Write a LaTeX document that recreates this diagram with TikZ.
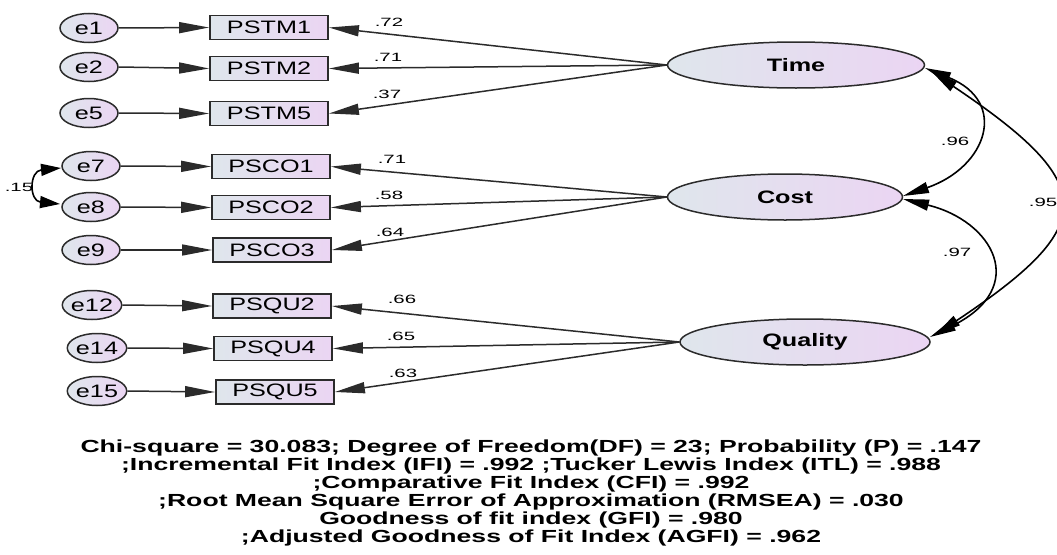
\documentclass[tikz,border=0pt]{standalone}
\usepackage{fontspec}
\setmainfont{Liberation Sans}[FakeStretch=1.4]
\newfontfamily\fitfont{Liberation Sans}[FakeStretch=1.52]
\newfontfamily\coeffont{Liberation Sans}[FakeStretch=1.7]
\usetikzlibrary{arrows.meta,shapes.geometric}
\definecolor{fillL}{HTML}{DFE6EC}
\definecolor{fillR}{HTML}{EBD5F3}
\definecolor{edgegray}{HTML}{2B2B2B}

\begin{document}
\begin{tikzpicture}[x=1pt,y=-1pt,
  errvar/.style={ellipse, draw=edgegray, line width=1.5pt, left color=fillL, right color=fillR,
    minimum width=58pt, minimum height=29pt, inner sep=0pt, font=\fontsize{18}{20}\selectfont},
  obsvar/.style={rectangle, draw=edgegray, line width=1.8pt, left color=fillL, right color=fillR,
    minimum width=118pt, minimum height=24pt, inner sep=0pt, font=\fontsize{18}{20}\selectfont},
  latvar/.style={ellipse, draw=edgegray, line width=1.5pt, left color=fillL, right color=fillR,
    minimum height=46pt, inner sep=0pt, font=\bfseries\fontsize{18}{20}\selectfont},
  path/.style={line width=1.5pt, draw=edgegray, -{Triangle[length=30pt,width=11pt]}},
  cov/.style={line width=1.6pt, draw=black, {Triangle[length=26pt,width=11pt]}-{Triangle[length=26pt,width=11pt]}},
  coef/.style={font=\coeffont\fontsize{12}{13}\selectfont, inner sep=0pt},
]
\useasboundingbox (0,0) rectangle (1057,554);

% error terms
\node[errvar] (e1)  at (89,28)  {e1};
\node[errvar] (e2)  at (89,67)  {e2};
\node[errvar] (e5)  at (89,113) {e5};
\node[errvar] (e7)  at (91,166) {e7};
\node[errvar] (e8)  at (91,207) {e8};
\node[errvar] (e9)  at (91,250) {e9};
\node[errvar] (e12) at (92,305) {e12};
\node[errvar] (e14) at (97,348) {e14};
\node[errvar] (e15) at (97,391) {e15};

% observed indicators
\node[obsvar] (PSTM1) at (269,27.5)  {PSTM1};
\node[obsvar] (PSTM2) at (269,68.5)  {PSTM2};
\node[obsvar] (PSTM5) at (269,113.5) {PSTM5};
\node[obsvar] (PSCO1) at (271,166.5) {PSCO1};
\node[obsvar] (PSCO2) at (271,207.5) {PSCO2};
\node[obsvar] (PSCO3) at (272,250)   {PSCO3};
\node[obsvar] (PSQU2) at (272,306)   {PSQU2};
\node[obsvar] (PSQU4) at (273,348.5) {PSQU4};
\node[obsvar] (PSQU5) at (275,392)   {PSQU5};

% latent factors
\node[latvar, minimum width=257pt] (Time)    at (796,65)  {Time};
\node[latvar, minimum width=235pt] (Cost)    at (785,197) {Cost};
\node[latvar, minimum width=250pt] (Quality) at (805,342) {Quality};

% error paths
\foreach \e/\o in {e1/PSTM1,e2/PSTM2,e5/PSTM5,e7/PSCO1,e8/PSCO2,e9/PSCO3,e12/PSQU2,e14/PSQU4,e15/PSQU5}
  \draw[path] (\e.east) -- (\o.west);

% factor loadings
\foreach \o in {PSTM1,PSTM2,PSTM5} \draw[path] (Time.west) -- (\o.east);
\foreach \o in {PSCO1,PSCO2,PSCO3} \draw[path] (Cost.west) -- (\o.east);
\foreach \o in {PSQU2,PSQU4,PSQU5} \draw[path] (Quality.west) -- (\o.east);

\node[coef] (l1) at (389,22)  {.72};
\node[coef] (l2) at (388,57)  {.71};
\node[coef] (l3) at (387,94)  {.37};
\node[coef] (l4) at (392,159) {.71};
\node[coef] (l5) at (389,195) {.58};
\node[coef] (l6) at (390,232) {.64};
\node[coef] (l7) at (402,299) {.66};
\node[coef] (l8) at (401,336) {.65};
\node[coef] (l9) at (403,373) {.63};

% covariances
\coordinate (tc1) at (925,68);
\coordinate (tc2) at (903,196);
\draw[cov] (tc1) .. controls (1009,102) and (987,167) .. (tc2);
\coordinate (cq1) at (903,199);
\coordinate (cq2) at (930,337);
\draw[cov] (cq1) .. controls (993,221) and (1030,287) .. (cq2);
\coordinate (tq1) at (932,72);
\coordinate (tq2) at (935,335);
\draw[cov] (tq1) .. controls (1100,185) and (1100,225) .. (tq2);
\coordinate (ee1) at (61,168);
\coordinate (ee2) at (60,204);
\draw[cov, {Triangle[length=20pt,width=12pt]}-{Triangle[length=20pt,width=12pt]}] (ee1) .. controls (29,171) and (29,201) .. (ee2);

\node[coef] (c1) at (955,141)  {.96};
\node[coef] (c2) at (957,252)  {.97};
\node[coef] (c3) at (1043,202) {.95};
\node[coef] (c4) at (19,187)   {.15};

% fit statistics
\node[align=center, inner sep=0pt, font=\fitfont\bfseries\fontsize{17.5}{18}\selectfont] (fit) at (531,493)
 {Chi-square = 30.083; Degree of Freedom(DF) = 23; Probability (P) = .147\\
  ;Incremental Fit Index (IFI) = .992 ;Tucker Lewis Index (ITL) = .988\\
  ;Comparative Fit Index (CFI) = .992\\
  ;Root Mean Square Error of Approximation (RMSEA) = .030\\
  Goodness of fit index (GFI) = .980\\
  ;Adjusted Goodness of Fit Index (AGFI) = .962};
\end{tikzpicture}
\end{document}
